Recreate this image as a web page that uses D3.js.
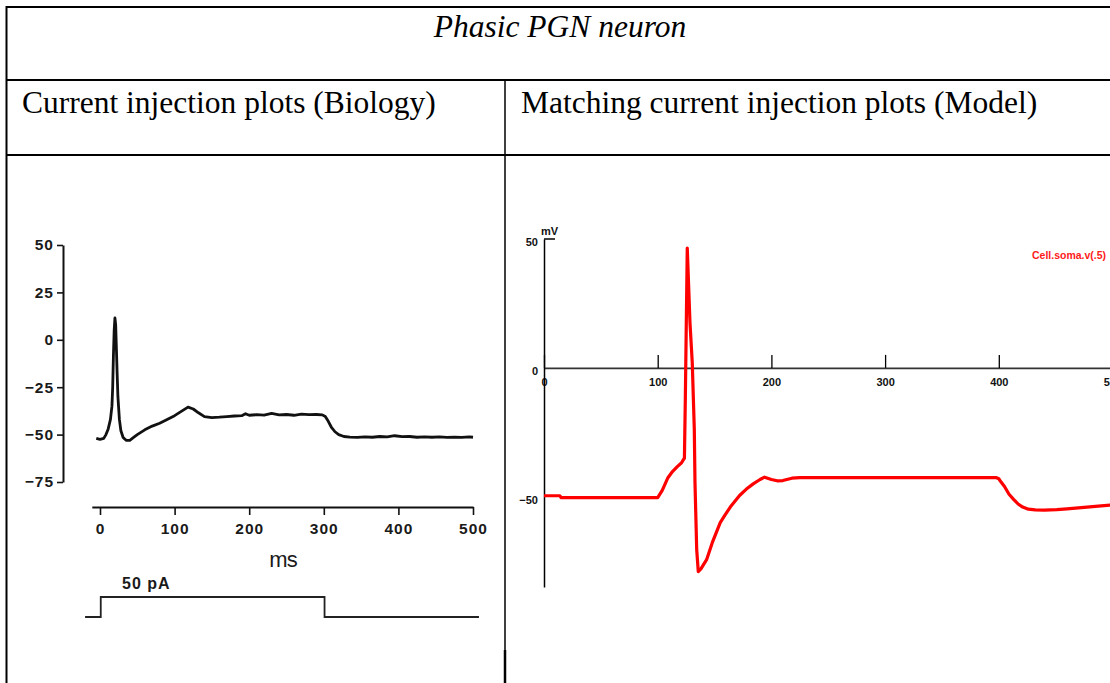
<!DOCTYPE html>
<html>
<head>
<meta charset="utf-8">
<script src="https://cdn.jsdelivr.net/npm/d3@7"></script>
<style>
  html, body { margin: 0; padding: 0; background: #fff; }
  svg { display: block; }
</style>
</head>
<body>
<svg id="fig" width="1110" height="683"></svg>
<script>
// ---- Recorded response (biology panel) ----
const bioTime = [-5, 0, 5, 8, 11, 14, 16, 17, 18, 19, 20, 21, 22, 23, 24, 26, 28, 31, 35, 40, 45, 50, 60, 70, 80, 90, 100, 110, 118, 125, 132, 140, 150, 160, 170, 180, 190, 195, 200, 210, 220, 230, 240, 250, 260, 270, 280, 290, 298, 302, 306, 310, 315, 320, 327, 335, 345, 355, 365, 375, 385, 395, 405, 415, 425, 435, 445, 455, 465, 475, 485, 495, 500];
const bioVolt = [-52, -52.5, -52, -50, -47, -42, -35, -25, -8, 5, 11.5, 8, -5, -18, -30, -42, -48, -51.5, -53, -53, -51.5, -50, -47.5, -45.5, -44, -42, -40, -37.5, -35.5, -36.5, -38.5, -40.5, -41, -40.8, -40.5, -40.2, -40, -39, -39.8, -39.5, -39.7, -38.8, -39.6, -39.4, -39.8, -39.2, -39.5, -39.4, -39.6, -40.5, -43, -46, -48.5, -50, -51, -51.3, -51.5, -51.2, -51.4, -51, -51.2, -50.6, -51.1, -51, -51.4, -51.2, -51.4, -51.2, -51.5, -51.3, -51.5, -51.2, -51.4];

// Current step (pA)
const stimTime = [-20, 1, 1, 301, 301, 508];
const stimAmp  = [0, 0, 50, 50, 0, 0];

const bioYTicks = [50, 25, 0, -25, -50, -75];
const bioXTicks = [0, 100, 200, 300, 400, 500];

// ---- Simulated response (model panel) ----
const modelTime = [0, 14, 15, 100, 104, 109, 113, 117, 121, 122.5, 123.5, 124.3, 126, 128.4, 130.4, 132.2, 132.8, 134.3, 135.7, 138, 143, 148, 155, 159, 164, 172, 178, 184, 190, 194, 200, 205, 210, 218, 225, 240, 300, 398, 400, 402, 405, 409, 413, 417, 421, 426, 432, 440, 451, 460, 470, 480, 490, 500];
const modelVolt = [-49.6, -49.6, -50.3, -50.3, -47.5, -42.6, -40.2, -38.4, -36.8, -35.7, -35, -12, 46.5, 17.4, 2, -24, -44.6, -70.5, -79, -78, -74.4, -67.8, -60, -57.2, -53.9, -49.5, -47, -45, -43.3, -42.4, -43.3, -43.8, -43.7, -42.8, -42.6, -42.6, -42.6, -42.6, -43, -44.3, -46, -49, -51, -52.8, -54, -54.8, -55.1, -55.2, -55, -54.7, -54.3, -53.9, -53.5, -53.2];

const modelXTicks = [0, 100, 200, 300, 400, 500];
const modelYTicks = [50, 0, -50];

const svg = d3.select("#fig");
const W = 1110, H = 683;

// ---- Table frame ----
const frame = svg.append("g").attr("stroke", "#000");
frame.append("line").attr("x1", 6).attr("x2", W).attr("y1", 7).attr("y2", 7).attr("stroke-width", 2);
frame.append("line").attr("x1", 6).attr("x2", W).attr("y1", 80).attr("y2", 80).attr("stroke-width", 2);
frame.append("line").attr("x1", 6).attr("x2", W).attr("y1", 155).attr("y2", 155).attr("stroke-width", 2);
frame.append("line").attr("x1", 6.5).attr("x2", 6.5).attr("y1", 6).attr("y2", H).attr("stroke-width", 2);
frame.append("line").attr("x1", 505).attr("x2", 505).attr("y1", 80).attr("y2", 650).attr("stroke-width", 1.5);
frame.append("line").attr("x1", 505).attr("x2", 505).attr("y1", 650).attr("y2", H).attr("stroke-width", 2.5);

const serif = "'Liberation Serif', 'Times New Roman', serif";
svg.append("text").attr("x", 560).attr("y", 37).attr("text-anchor", "middle")
  .attr("font-family", serif).attr("font-style", "italic").attr("font-size", 31.5)
  .text("Phasic PGN neuron");
svg.append("text").attr("x", 22).attr("y", 113)
  .attr("font-family", serif).attr("font-size", 31.5)
  .text("Current injection plots (Biology)");
svg.append("text").attr("x", 521).attr("y", 113)
  .attr("font-family", serif).attr("font-size", 31.5)
  .text("Matching current injection plots (Model)");

// ---- Biology panel ----
const sans = "'Liberation Sans', Arial, sans-serif";
const bioX = d3.scaleLinear().domain([-11, 500]).range([91.8, 473]);
const bioY = d3.scaleLinear().domain([-75, 50]).range([482, 245]);

const bioYAxis = svg.append("g").attr("transform", "translate(63,0)")
  .call(d3.axisLeft(bioY).tickValues(bioYTicks).tickSize(6).tickSizeOuter(0).tickPadding(3)
    .tickFormat(d3.format("d")));
const bioXAxis = svg.append("g").attr("transform", "translate(0,507)")
  .call(d3.axisBottom(bioX).tickValues(bioXTicks).tickSize(8).tickSizeOuter(0).tickPadding(8)
    .tickFormat(d3.format("d")));
[bioYAxis, bioXAxis].forEach(g => {
  g.select(".domain").attr("stroke", "#111").attr("stroke-width", 2);
  g.selectAll(".tick line").attr("stroke", "#111").attr("stroke-width", 1.6);
  g.selectAll(".tick text").attr("font-family", sans).attr("font-size", 15.5)
    .attr("font-weight", "bold").attr("fill", "#1a1a1a").attr("letter-spacing", 1);
});

svg.append("text").attr("x", 283).attr("y", 567).attr("text-anchor", "middle")
  .attr("font-family", sans).attr("font-size", 22).attr("letter-spacing", -1).attr("fill", "#1a1a1a")
  .text("ms");
svg.append("text").attr("x", 122).attr("y", 589)
  .attr("font-family", sans).attr("font-size", 16).attr("font-weight", "bold")
  .attr("letter-spacing", 1).attr("fill", "#1a1a1a")
  .text("50 pA");

const bioLine = d3.line().x(d => bioX(d[0])).y(d => bioY(d[1]));
svg.append("path").datum(d3.zip(bioTime, bioVolt))
  .attr("d", bioLine).attr("fill", "none").attr("stroke", "#111")
  .attr("stroke-width", 2.8).attr("stroke-linejoin", "round");

const stimY = d3.scaleLinear().domain([0, 50]).range([617, 597]);
svg.append("path").datum(d3.zip(stimTime, stimAmp))
  .attr("d", d3.line().x(d => bioX(d[0])).y(d => stimY(d[1])))
  .attr("fill", "none").attr("stroke", "#222").attr("stroke-width", 1.8);

// ---- Model panel ----
const modX = d3.scaleLinear().domain([0, 500]).range([544, 1112.5]);
const modY = d3.scaleLinear().domain([-85, 50]).range([587, 239]);

const modXAxis = svg.append("g").attr("transform", `translate(0,${modY(0)})`)
  .call(d3.axisBottom(modX).tickValues(modelXTicks).tickSize(-13).tickSizeOuter(0).tickPadding(14)
    .tickFormat(d3.format("d")));
modXAxis.select(".domain").attr("stroke", "#333").attr("stroke-width", 1.6)
  .attr("d", `M${modX(0)},0.5H${W}`);
modXAxis.selectAll(".tick line").attr("stroke", "#000").attr("stroke-width", 1.3);
modXAxis.selectAll(".tick text").attr("dy", "0.35em");

const modYAxis = svg.append("g").attr("transform", `translate(${modX(0)},0)`)
  .call(d3.axisLeft(modY).tickValues(modelYTicks).tickSize(0).tickSizeOuter(0).tickPadding(6)
    .tickFormat(d3.format("d")));
modYAxis.select(".domain").attr("stroke", "#000").attr("stroke-width", 1.5);
modYAxis.selectAll(".tick text").attr("dy", "0.62em");

[modXAxis, modYAxis].forEach(g => {
  g.selectAll(".tick text").attr("font-family", sans).attr("font-size", 11)
    .attr("font-weight", "bold").attr("fill", "#111");
});

// short marker at the top of the voltage axis
svg.append("line").attr("x1", modX(0)).attr("x2", modX(0) + 11)
  .attr("y1", modY(50)).attr("y2", modY(50)).attr("stroke", "#000").attr("stroke-width", 1.5);
svg.append("text").attr("x", 541).attr("y", 235)
  .attr("font-family", sans).attr("font-size", 11).attr("font-weight", "bold").attr("fill", "#111")
  .text("mV");

svg.append("text").attr("x", 1032).attr("y", 259)
  .attr("font-family", sans).attr("font-size", 10.5).attr("font-weight", "bold").attr("fill", "#ff1a1a")
  .text("Cell.soma.v(.5)");

const modLine = d3.line().x(d => modX(d[0])).y(d => modY(d[1]));
svg.append("path").datum(d3.zip(modelTime, modelVolt))
  .attr("d", modLine).attr("fill", "none").attr("stroke", "#ff0000")
  .attr("stroke-width", 3.2).attr("stroke-linejoin", "round");
</script>
</body>
</html>
